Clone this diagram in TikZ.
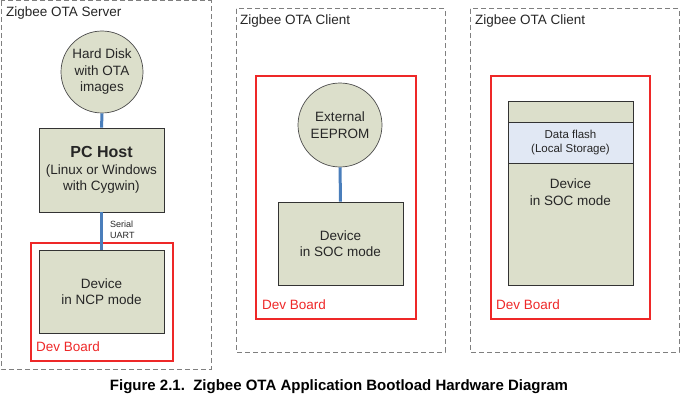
\documentclass[tikz,border=0pt]{standalone}
\usepackage{fontspec}
\setmainfont{Liberation Sans}
\usetikzlibrary{positioning}
\definecolor{boxfill}{HTML}{DCDFCB}
\definecolor{linkblue}{HTML}{4A7EBB}
\definecolor{flashfill}{HTML}{E1E8F4}
\definecolor{boardred}{RGB}{238,40,40}
\definecolor{zonegrey}{HTML}{7F7F7F}
\begin{document}
\begin{tikzpicture}[x=1pt, y=-1pt,
        every node/.style={font=\fontsize{13.5}{16.5}\selectfont, align=center, text=black!85},
        hwbox/.style={draw=black!80, fill=boxfill, line width=0.9pt, inner sep=0pt},
        disk/.style={circle, draw=black!70, fill=boxfill, line width=0.7pt, minimum size=82pt, inner sep=0pt},
        link/.style={draw=linkblue, line width=3pt},
        zone/.style={draw=zonegrey, dash pattern=on 5pt off 3pt, line width=1pt},
        board/.style={draw=boardred, line width=1.1pt, inner sep=0pt},
        tag/.style={anchor=west, inner sep=0pt}
    ]
        \useasboundingbox (0,0) rectangle (680,404);

        % Frames
        \draw[zone] (1,1) rectangle (211,369);
        \draw[zone] (236,9) rectangle (445,352);
        \draw[zone] (470,9) rectangle (679,352);
        \node[board, minimum width=142pt, minimum height=118pt] (srvframe) at (102,302) {};
        \node[board, minimum width=160pt, minimum height=243pt] (cliaframe) at (336,197.5) {};
        \node[board, minimum width=159pt, minimum height=243pt] (clibframe) at (570.5,197.5) {};

        % Server
        \node[tag] (srvname) at (6,13) {Zigbee OTA Server};
        \node[disk] (disk) at (102,72) {Hard Disk\\with OTA\\images};
        \node[hwbox, minimum width=125pt, minimum height=84pt] (pc) at (101.5,170)
            {{\bfseries\fontsize{16}{19}\selectfont PC Host}\\(Linux or Windows\\with Cygwin)};
        \node[hwbox, minimum width=125pt, minimum height=83pt] (ncp) at (101.5,291.5) {Device\\in NCP mode};
        \node[tag, text=boardred] (srvboard) at (36,347) {Dev Board};
        \draw[link] (disk) -- (pc);
        \draw[link] (pc) -- (ncp);
        \node[tag, font=\fontsize{9}{11}\selectfont, align=left] (uart) at (110,230) {Serial\\UART};

        % Client with EEPROM
        \node[tag] (clianame) at (240,21) {Zigbee OTA Client};
        \node[disk, minimum size=84pt] (eeprom) at (340,125) {External\\EEPROM};
        \node[hwbox, minimum width=125pt, minimum height=83pt] (soca) at (340.5,243.5) {Device\\in SOC mode};
        \node[tag, text=boardred] (cliaboard) at (262,305) {Dev Board};
        \draw[link] (eeprom) -- (soca);

        % Client with data flash
        \node[tag] (clibname) at (475,21) {Zigbee OTA Client};
        \node[hwbox, minimum width=125pt, minimum height=184pt] (socb) at (570.5,193) {};
        \node[hwbox, fill=flashfill, minimum width=125pt, minimum height=41pt,
            font=\fontsize{11.5}{14}\selectfont] (flash) at (570.5,142.5) {Data flash\\(Local Storage)};
        \node (socbtext) at (570.5,192) {Device\\in SOC mode};
        \node[tag, text=boardred] (clibboard) at (496,305) {Dev Board};

        % Caption
        \node[font=\bfseries\fontsize{15}{18}\selectfont, text=black] (caption) at (339,387)
            {Figure 2.1.\ \ Zigbee OTA Application Bootload Hardware Diagram};
    \end{tikzpicture}
\end{document}
